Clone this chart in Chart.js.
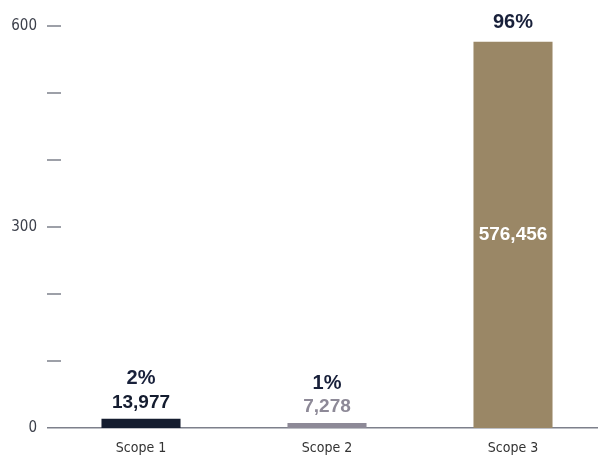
<!DOCTYPE html>
<html lang="en">
<head>
  <meta charset="UTF-8">
  <title>Emissions by scope</title>
  <script src="https://cdn.jsdelivr.net/npm/chart.js"></script>
  <style>
    body {
      margin: 0;
      background: #fff;
      overflow: hidden;
    }
    #wrap {
      width: 610px;
      height: 456px;
    }
  </style>
</head>
<body>
  <div id="wrap"><canvas id="scopeChart" width="610" height="456"></canvas></div>

  <script>
    // data
    const scopes = ['Scope 1', 'Scope 2', 'Scope 3'];
    const emissions = [13977, 7278, 576456];
    const shares = ['2%', '1%', '96%'];
    const yLabelValues = [0, 300000, 600000];

    const barColors = ['#141c2f', '#8d8997', '#9a8766'];
    const numColors = ['#141c2f', '#8d8997', '#ffffff'];
    const navy = '#18203a';
    const axisGrey = '#7d808b';
    const narrow = "'Liberation Sans Narrow', 'DejaVu Sans Condensed', 'Arial Narrow', sans-serif";

    // short dashes next to the y axis + value labels above / in the bars
    const scopeMarks = {
      id: 'scopeMarks',
      afterDraw(chart) {
        const c = chart.ctx;
        const y = chart.scales.y;
        const left = chart.chartArea.left;
        c.save();
        c.strokeStyle = axisGrey;
        c.lineWidth = 1.5;
        y.ticks.forEach(t => {
          if (t.value === 0) return;
          const py = Math.round(y.getPixelForValue(t.value));
          c.beginPath();
          c.moveTo(left - 1, py);
          c.lineTo(left + 13, py);
          c.stroke();
        });

        const bars = chart.getDatasetMeta(0).data;
        c.textAlign = 'center';
        c.textBaseline = 'middle';
        bars.forEach((bar, i) => {
          const num = emissions[i].toLocaleString('en-US');
          const inside = (bar.base - bar.y) > 60;
          c.font = 'bold 19px "Liberation Sans", Arial, sans-serif';
          c.fillStyle = numColors[i];
          if (inside) {
            c.fillText(num, bar.x, (bar.y + bar.base) / 2);
            c.fillStyle = navy;
            c.font = 'bold 20px "Liberation Sans", Arial, sans-serif';
            c.fillText(shares[i], bar.x, bar.y - 19);
          } else {
            c.fillText(num, bar.x, bar.y - 16);
            c.fillStyle = navy;
            c.font = 'bold 20px "Liberation Sans", Arial, sans-serif';
            c.fillText(shares[i], bar.x, bar.y - 40);
          }
        });
        c.restore();
      }
    };

    const ctx = document.getElementById('scopeChart').getContext('2d');
    const chart = new Chart(ctx, {
      type: 'bar',
      data: {
        labels: scopes,
        datasets: [{
          data: emissions,
          backgroundColor: barColors,
          barPercentage: 0.425,
          categoryPercentage: 1
        }]
      },
      options: {
        responsive: false,
        animation: false,
        layout: { padding: { top: 26, right: 4 } },
        plugins: {
          legend: { display: false },
          tooltip: { enabled: false }
        },
        scales: {
          x: {
            grid: { display: false, drawTicks: false },
            border: { display: true, color: axisGrey, width: 1.5 },
            ticks: {
              color: '#333',
              font: { family: narrow, size: 14 },
              padding: 12
            },
            afterFit(s) { s.height = 28; }
          },
          y: {
            min: 0,
            max: 600000,
            grid: { display: false, drawTicks: false },
            border: { display: false },
            ticks: {
              stepSize: 100000,
              padding: 11,
              color: '#3b3f4a',
              font: { family: narrow, size: 15 },
              callback: v => yLabelValues.includes(v) ? String(v / 1000) : ''
            },
            afterFit(s) { s.width = 48; }
          }
        }
      },
      plugins: [scopeMarks]
    });
  </script>
</body>
</html>
